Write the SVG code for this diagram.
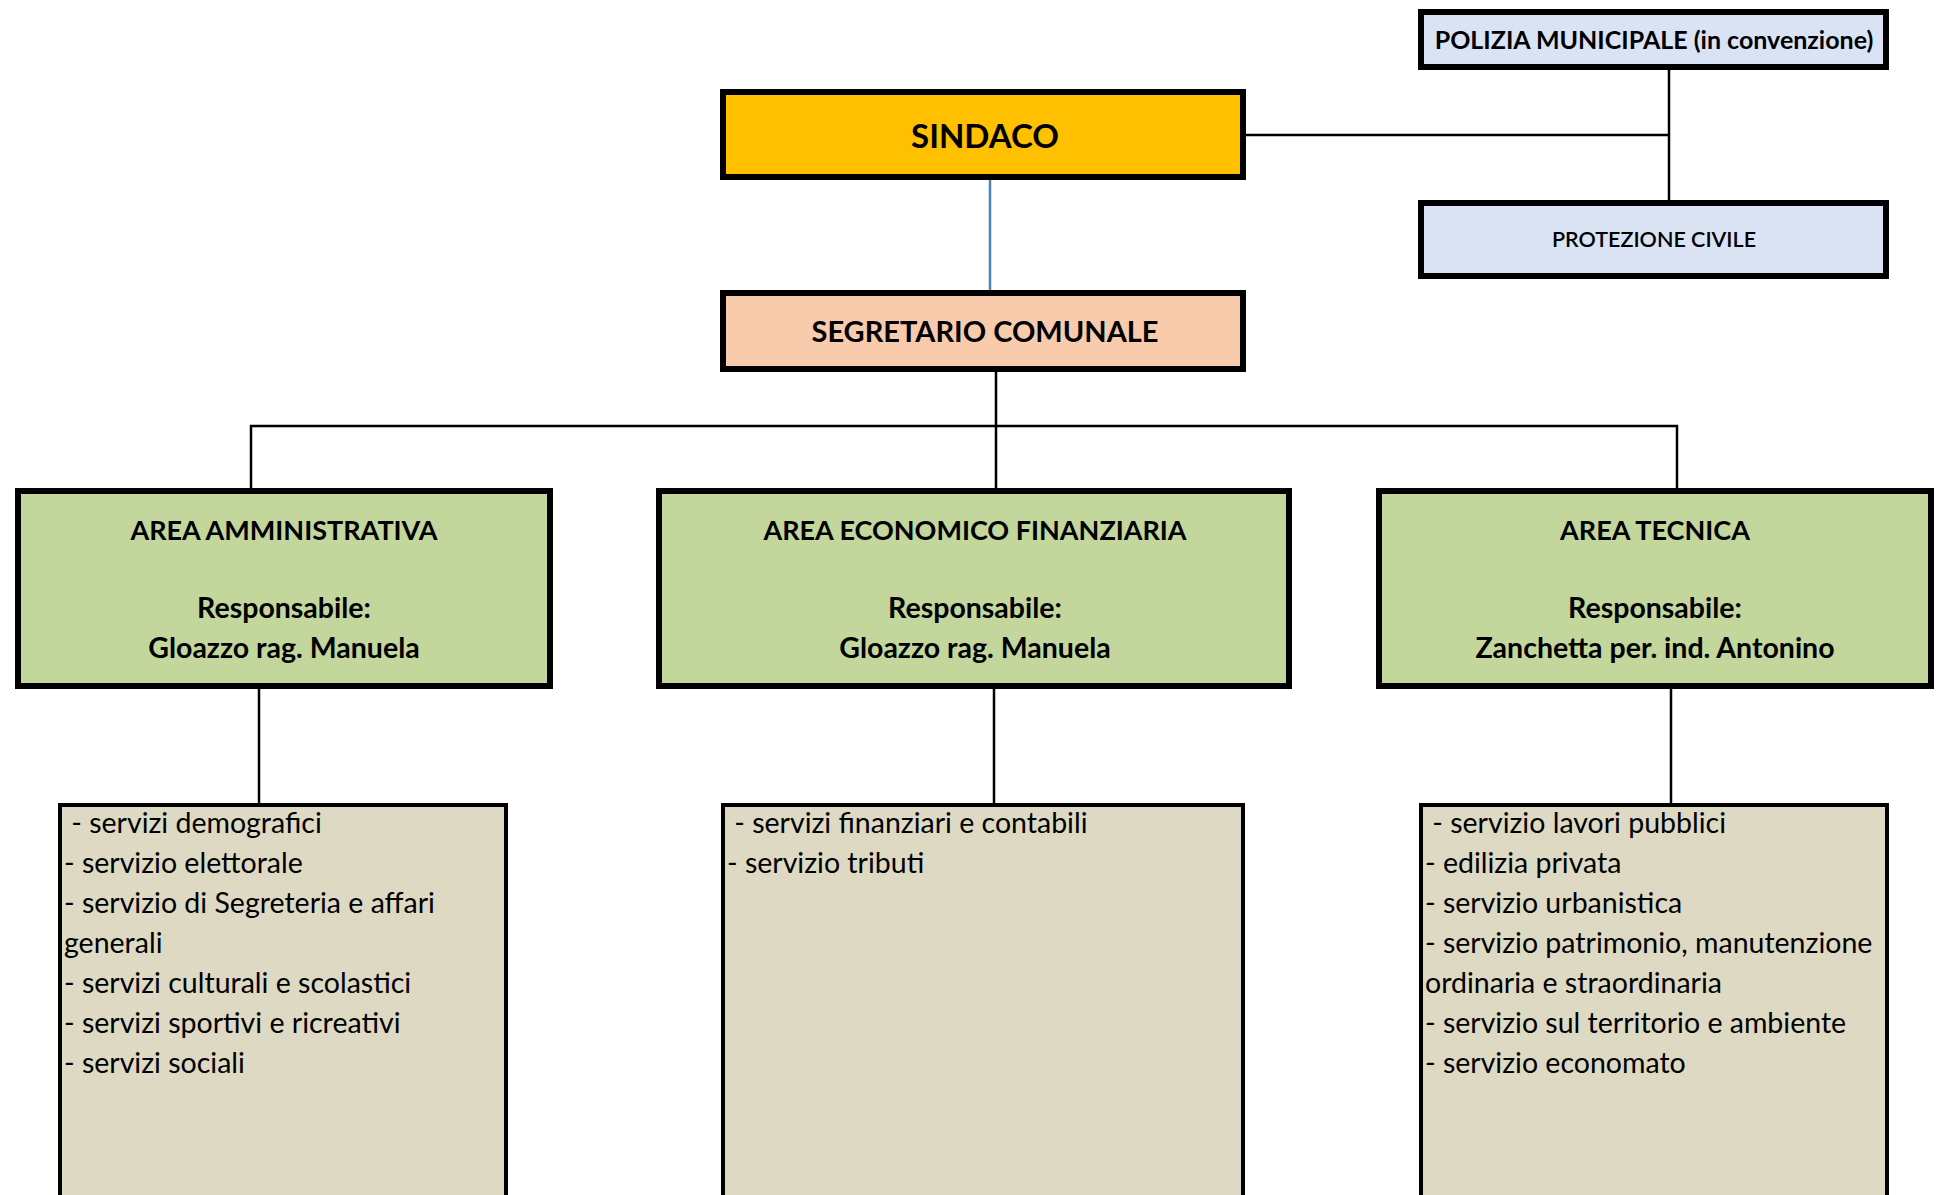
<svg xmlns="http://www.w3.org/2000/svg" width="1937" height="1195" viewBox="0 0 1937 1195">
<style>
.box{stroke:#000;stroke-width:6}
.sub{stroke:#000;stroke-width:4}
.t{font-family:Lato,"Liberation Sans",sans-serif;fill:#000}
.b{font-weight:bold}
.c{text-anchor:middle}
.ln{stroke:#000;stroke-width:2.5;fill:none}
.body{font-size:28.5px}
.ah{font-size:27px}
.an{font-size:28.5px}
</style>
<rect width="1937" height="1195" fill="#fff"/>
<g id="connectors">
<line class="ln" x1="990" y1="180" x2="990" y2="290" style="stroke:#4F81BD"/>
<polyline class="ln" points="1246,135 1669,135"/>
<line class="ln" x1="1669" y1="69" x2="1669" y2="200"/>
<line class="ln" x1="996" y1="372" x2="996" y2="488"/>
<polyline class="ln" points="251,488 251,426 1677,426 1677,488"/>
<line class="ln" x1="259" y1="689" x2="259" y2="803"/>
<line class="ln" x1="994" y1="689" x2="994" y2="803"/>
<line class="ln" x1="1671" y1="689" x2="1671" y2="803"/>
</g>
<g id="sindaco">
<rect class="box" x="723" y="92" width="520" height="85" fill="#FFC000"/>
<text class="t b c" x="985" y="148" font-size="33">SINDACO</text>
</g>
<g id="segretario">
<rect class="box" x="723" y="293" width="520" height="76" fill="#F8CBAD"/>
<text class="t b c" x="985" y="342" font-size="29">SEGRETARIO COMUNALE</text>
</g>
<g id="polizia">
<rect class="box" x="1421" y="12" width="465" height="55" fill="#DAE3F3"/>
<text class="t b c" x="1654" y="49" font-size="25">POLIZIA MUNICIPALE (in convenzione)</text>
</g>
<g id="protezione">
<rect class="box" x="1421" y="203" width="465" height="73" fill="#DAE3F3"/>
<text class="t c" x="1654" y="247" font-size="21.5" font-weight="600">PROTEZIONE CIVILE</text>
</g>
<g id="area-amministrativa">
<rect class="box" x="18" y="491" width="532" height="195" fill="#C3D69B"/>
<text class="t b c ah" x="284" y="540">AREA AMMINISTRATIVA</text>
<text class="t b c an" x="284" y="618">Responsabile:</text>
<text class="t b c an" x="284" y="658">Gloazzo rag. Manuela</text>
</g>
<g id="area-economico-finanziaria">
<rect class="box" x="659" y="491" width="630" height="195" fill="#C3D69B"/>
<text class="t b c ah" x="975" y="540">AREA ECONOMICO FINANZIARIA</text>
<text class="t b c an" x="975" y="618">Responsabile:</text>
<text class="t b c an" x="975" y="658">Gloazzo rag. Manuela</text>
</g>
<g id="area-tecnica">
<rect class="box" x="1379" y="491" width="552" height="195" fill="#C3D69B"/>
<text class="t b c ah" x="1655" y="540">AREA TECNICA</text>
<text class="t b c an" x="1655" y="618">Responsabile:</text>
<text class="t b c an" x="1655" y="658">Zanchetta per. ind. Antonino</text>
</g>
<g id="servizi-amministrativa">
<rect class="sub" x="60" y="805" width="446" height="420" fill="#DDD9C3"/>
<text class="t body" xml:space="preserve"><tspan x="64" y="833"> - servizi demografici</tspan><tspan x="64" y="873">- servizio elettorale</tspan><tspan x="64" y="913">- servizio di Segreteria e affari</tspan><tspan x="64" y="953">generali</tspan><tspan x="64" y="993">- servizi culturali e scolastici</tspan><tspan x="64" y="1033">- servizi sportivi e ricreativi</tspan><tspan x="64" y="1073">- servizi sociali</tspan></text>
</g>
<g id="servizi-economico-finanziaria">
<rect class="sub" x="723" y="805" width="520" height="420" fill="#DDD9C3"/>
<text class="t body" xml:space="preserve"><tspan x="727" y="833"> - servizi finanziari e contabili</tspan><tspan x="727" y="873">- servizio tributi</tspan></text>
</g>
<g id="servizi-tecnica">
<rect class="sub" x="1421" y="805" width="466" height="420" fill="#DDD9C3"/>
<text class="t body" xml:space="preserve"><tspan x="1425" y="833"> - servizio lavori pubblici</tspan><tspan x="1425" y="873">- edilizia privata</tspan><tspan x="1425" y="913">- servizio urbanistica</tspan><tspan x="1425" y="953">- servizio patrimonio, manutenzione</tspan><tspan x="1425" y="993">ordinaria e straordinaria</tspan><tspan x="1425" y="1033">- servizio sul territorio e ambiente</tspan><tspan x="1425" y="1073">- servizio economato</tspan></text>
</g>
</svg>
